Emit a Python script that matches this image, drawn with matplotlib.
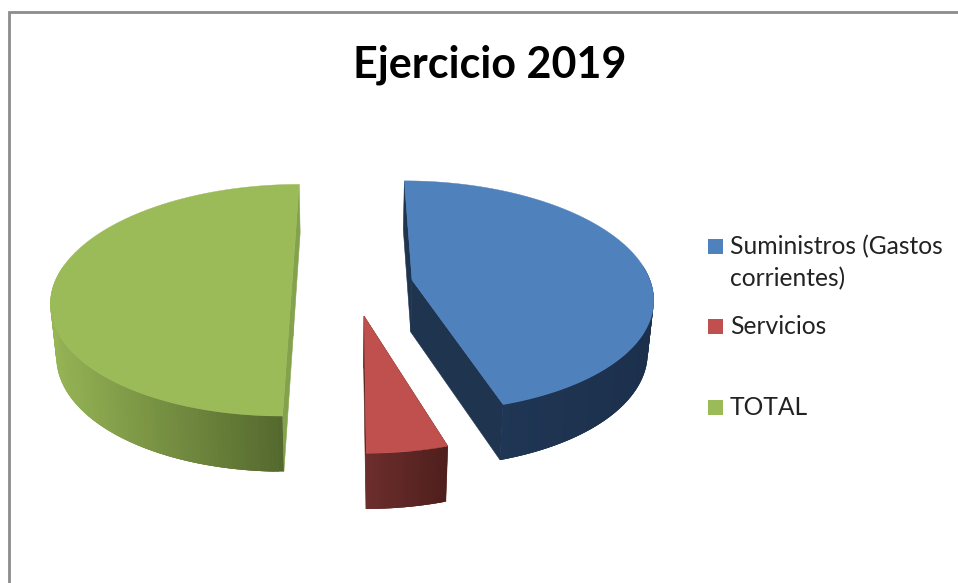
import numpy as np
import matplotlib
matplotlib.use("Agg")
import matplotlib.pyplot as plt
from matplotlib.patches import Polygon, Rectangle

plt.rcParams['font.family'] = ['Lato', 'DejaVu Sans']

title = "Ejercicio 2019"
labels = ["Suministros (Gastos\ncorrientes)", "Servicios", "TOTAL"]
values = [45.2, 4.8, 50.0]

top_colors = ["#4F81BD", "#C0504D", "#9BBB59"]
wall_light = ["#1F3654", "#6C2E2C", "#96B555"]
wall_dark = ["#1C304C", "#4F1F1D", "#55692E"]
cut_colors = ["#1E344F", "#5A2523", "#84A24C"]

# where each slice's tip sits after the explosion (pixels)
tips = [(412, 280), (364, 316), (292, 284)]

# fake perspective
vx, vy = 350, 280
a, b = 238, 113
k = 0.14
depth = 52
shrink = 0.98


def project(tip, ang):
    X = np.sin(ang)
    Y = np.cos(ang)
    s = 1 / (1 + k * Y)
    x = vx + (tip[0] + a * X - vx) * s
    y = vy + (tip[1] - vy) * s - b * Y * s
    return x, y


def drop(x, y, Y):
    return vx + (x - vx) * shrink, y + depth * (1 - 0.07 * Y)


fig = plt.figure(figsize=(9.58, 5.83), dpi=100)
ax = fig.add_axes([0, 0, 1, 1])
ax.set_xlim(0, 958)
ax.set_ylim(583, 0)
ax.axis('off')

# chart frame, cut off by the screenshot on the right and at the bottom
ax.plot([9, 9, 958], [583, 12, 12], color='#8C8C8C', lw=2, solid_joinstyle='miter')

ends = np.cumsum(values) / np.sum(values) * 2 * np.pi
starts = np.r_[0, ends[:-1]]

for i in range(len(values)):
    tip = tips[i]
    ang = np.linspace(starts[i], ends[i], 181)
    xs, ys = project(tip, ang)
    xb, yb = drop(xs, ys, np.cos(ang))
    tx, ty = drop(tip[0], tip[1], 0)

    # flat cut faces first, they sit behind the rim and the top
    for j in (0, -1):
        pts = [(xs[j], ys[j]), tip, (tx, ty), (xb[j], yb[j])]
        ax.add_patch(Polygon(pts, fc=cut_colors[i], ec=cut_colors[i], lw=0.4))

    # rim, strip by strip so that the shading can change along it.
    # every strip overlaps the next one, otherwise the seams show up as stripes
    front = np.cos(ang) < 0.15
    x_min, x_max = xs[front].min(), xs[front].max()
    c0 = np.array(matplotlib.colors.to_rgb(wall_light[i]))
    c1 = np.array(matplotlib.colors.to_rgb(wall_dark[i]))
    for j in np.flatnonzero(front)[:-1]:
        t = (xs[j] - x_min) / max(x_max - x_min, 1)
        col = c0 + (c1 - c0) * t
        n = min(j + 3, len(ang) - 1)
        pts = [(xs[j], ys[j]), (xs[n], ys[n]), (xb[n], yb[n]), (xb[j], yb[j])]
        ax.add_patch(Polygon(pts, fc=col, ec='none', lw=0))

    top = [tip] + list(zip(xs, ys))
    ax.add_patch(Polygon(top, fc=top_colors[i], ec=top_colors[i], lw=0.3))

ax.text(490, 65, title, ha='center', va='center', fontsize=31, fontweight='bold', color='black')

legend_y = [246, 326, 407]
for i, lab in enumerate(labels):
    ax.add_patch(Rectangle((708, legend_y[i] - 7.5), 15, 15, fc=top_colors[i], ec='none'))
    ax.text(730, legend_y[i] - 11, lab, ha='left', va='top', fontsize=17.7, color='#222222', linespacing=1.43)

fig.savefig("out.png", dpi=100)
